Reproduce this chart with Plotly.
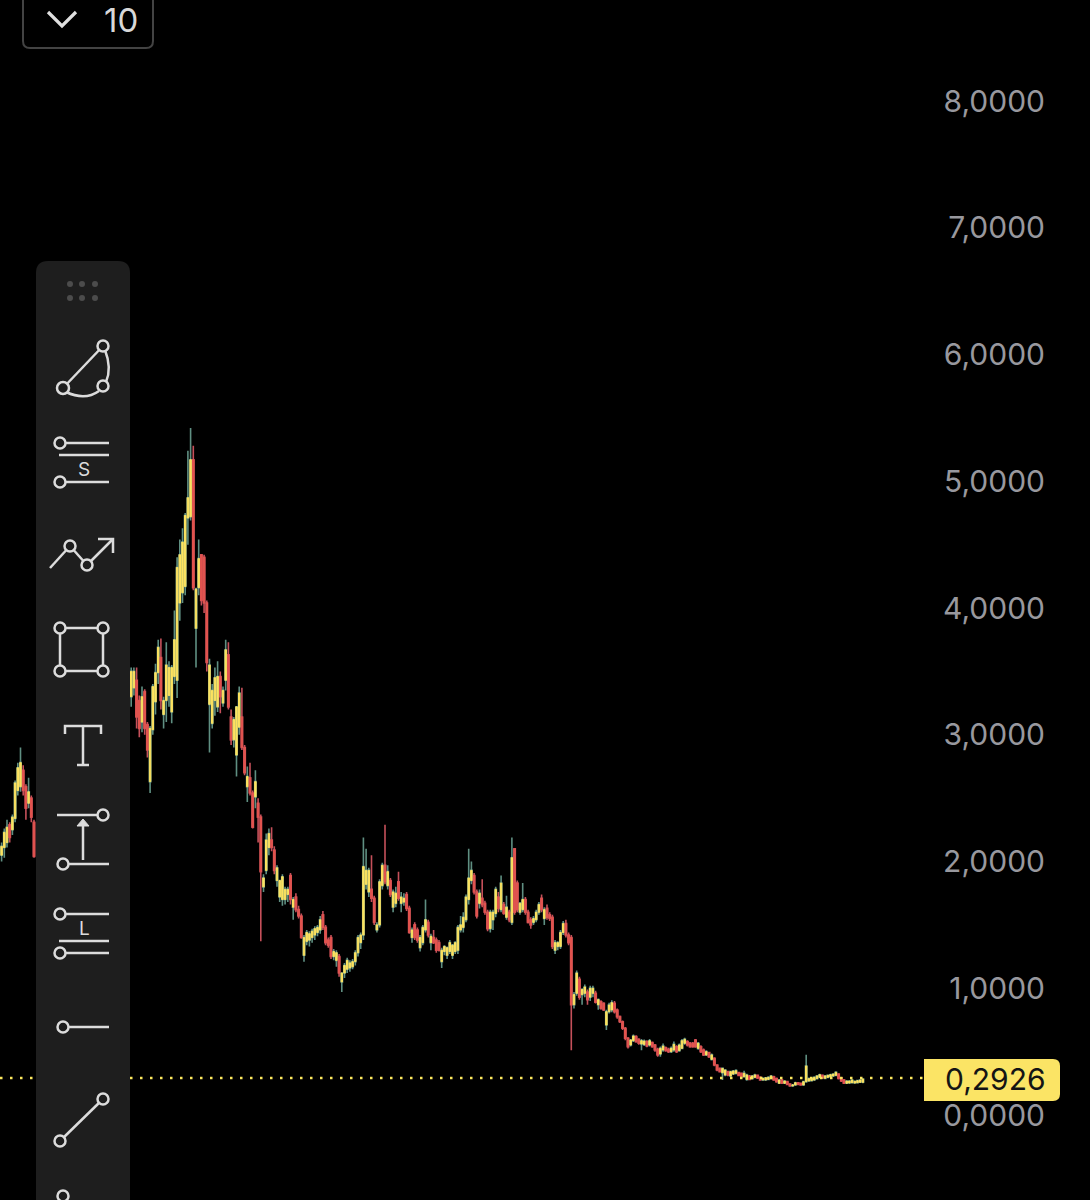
import plotly.graph_objects as go

# candles left of the toolbar
left_open = [2.05, 2.11, 2.15, 2.29, 2.25, 2.34, 2.56, 2.59, 2.72, 2.59, 2.46, 2.50, 2.31]
left_high = [2.15, 2.26, 2.33, 2.31, 2.37, 2.64, 2.78, 2.90, 2.76, 2.61, 2.66, 2.52, 2.33]
left_low = [2.00, 2.03, 2.11, 2.15, 2.21, 2.31, 2.52, 2.55, 2.52, 2.33, 2.42, 2.31, 2.03]
left_close = [2.12, 2.23, 2.27, 2.19, 2.35, 2.62, 2.74, 2.78, 2.56, 2.42, 2.55, 2.35, 2.04]

# candles right of the toolbar, up to the big drop
main_open = [
    3.30, 3.37, 3.43, 3.27, 3.10, 3.34, 3.08, 2.63, 3.04, 3.26,
    3.49, 3.61, 3.16, 3.27, 3.31, 3.18, 3.46, 3.43, 4.04, 4.12,
    4.17, 4.71, 4.72, 5.17, 3.84, 4.16, 4.42, 4.40, 4.04, 3.24,
    3.09, 3.27, 3.22, 3.46, 3.25, 3.43, 3.63, 3.14, 2.96, 2.84,
    3.06, 3.14, 2.90, 2.59, 2.66, 2.54, 2.51, 2.46, 2.35, 1.80,
    1.93, 2.11, 2.17, 2.09, 1.85, 1.72, 1.70, 1.70, 1.74, 1.89, 1.64,
    1.72, 1.62, 1.57, 1.26, 1.37, 1.38, 1.40, 1.42, 1.44, 1.46, 1.58, 1.48,
    1.38, 1.40, 1.25, 1.22, 1.25,
    1.05, 1.12, 1.15, 1.16, 1.17, 1.21, 1.28,
    1.36, 1.42, 1.82, 1.76, 1.78, 1.71, 1.46, 1.50, 1.81, 1.97,
    1.81, 1.85, 1.64, 1.67, 1.84, 1.67, 1.68, 1.74, 1.63, 1.40,
    1.50, 1.46, 1.32, 1.36, 1.46, 1.52, 1.36, 1.40, 1.38, 1.36,
    1.21, 1.29, 1.26, 1.29, 1.26, 1.29, 1.30, 1.46,
    1.48, 1.54, 1.70, 1.85, 1.89, 1.76, 1.67, 1.71, 1.67, 1.60,
    1.47, 1.54, 1.59, 1.72, 1.62, 1.66, 1.56, 1.60, 1.52, 2.10,
    1.83, 1.60, 1.62, 1.70, 1.60, 1.54, 1.52, 1.54, 1.60, 1.71,
    1.55, 1.63, 1.58, 1.56, 1.30, 1.33, 1.33, 1.44, 1.51, 1.42,
    1.40, 0.87, 0.96, 1.07, 0.95, 0.96, 0.97, 0.93, 0.96, 0.96, 0.87,
]
main_high = [
    3.53, 3.53, 3.53, 3.31, 3.38, 3.36, 3.10, 3.07, 3.40, 3.56,
    3.75, 3.76, 3.30, 3.73, 3.58, 3.55, 3.98, 4.40, 4.54, 4.63,
    4.75, 5.24, 5.42, 5.28, 4.16, 4.54, 4.42, 4.42, 4.06, 3.60,
    3.40, 3.53, 3.58, 3.50, 3.38, 3.75, 3.73, 3.20, 3.14, 3.22,
    3.38, 3.37, 2.92, 2.75, 2.78, 2.56, 2.72, 2.50, 2.37, 1.90,
    2.22, 2.26, 2.27, 2.12, 1.97, 1.85, 1.90, 1.80, 1.80, 1.91, 1.72,
    1.75, 1.65, 1.59, 1.42, 1.46, 1.45, 1.47, 1.49, 1.50, 1.57, 1.61, 1.50,
    1.40, 1.42, 1.31, 1.30, 1.27,
    1.12, 1.20, 1.24, 1.22, 1.23, 1.30, 1.42,
    1.44, 2.19, 2.10, 1.95, 2.05, 1.73, 1.52, 1.86, 1.99, 2.29,
    1.97, 1.87, 1.78, 1.80, 1.92, 1.76, 1.75, 1.76, 1.65, 1.48,
    1.52, 1.48, 1.42, 1.50, 1.70, 1.54, 1.43, 1.46, 1.40, 1.38,
    1.32, 1.34, 1.33, 1.38, 1.35, 1.37, 1.50, 1.57,
    1.60, 1.74, 2.10, 2.00, 1.91, 1.78, 1.78, 1.86, 1.69, 1.62,
    1.62, 1.62, 1.80, 1.76, 1.89, 1.68, 1.73, 1.62, 2.19, 2.10,
    1.85, 1.68, 1.83, 1.72, 1.62, 1.56, 1.57, 1.62, 1.68, 1.74,
    1.64, 1.66, 1.60, 1.58, 1.38, 1.37, 1.46, 1.53, 1.54, 1.44,
    1.42, 0.97, 1.14, 1.09, 1.00, 1.03, 0.99, 1.02, 1.02, 0.98, 0.92,
]
main_low = [
    3.22, 3.31, 3.05, 2.98, 3.02, 3.00, 2.82, 2.54, 3.00, 3.16,
    3.40, 3.20, 3.05, 3.10, 3.22, 3.09, 3.40, 3.29, 3.90, 4.04,
    4.10, 4.50, 4.69, 4.14, 3.53, 4.10, 4.02, 3.96, 3.50, 2.86,
    3.05, 3.15, 3.18, 3.17, 3.22, 3.35, 3.20, 2.92, 2.90, 2.67,
    3.00, 2.88, 2.68, 2.47, 2.52, 2.26, 2.42, 2.15, 1.37, 1.76,
    1.90, 2.05, 2.08, 1.90, 1.80, 1.68, 1.65, 1.66, 1.68, 1.66, 1.54,
    1.60, 1.55, 1.39, 1.21, 1.34, 1.33, 1.36, 1.38, 1.41, 1.43, 1.46, 1.34,
    1.32, 1.23, 1.22, 1.17, 1.09,
    0.97, 1.08, 1.12, 1.13, 1.15, 1.18, 1.25,
    1.31, 1.38, 1.78, 1.72, 1.68, 1.50, 1.44, 1.48, 1.78, 1.82,
    1.78, 1.72, 1.60, 1.64, 1.69, 1.60, 1.65, 1.61, 1.43, 1.36,
    1.38, 1.36, 1.29, 1.34, 1.44, 1.40, 1.30, 1.35, 1.28, 1.29,
    1.16, 1.26, 1.23, 1.27, 1.23, 1.27, 1.27, 1.44,
    1.44, 1.52, 1.66, 1.82, 1.74, 1.55, 1.63, 1.64, 1.58, 1.45,
    1.44, 1.46, 1.56, 1.60, 1.60, 1.58, 1.54, 1.52, 1.50, 1.58,
    1.60, 1.58, 1.60, 1.58, 1.51, 1.47, 1.50, 1.52, 1.58, 1.60,
    1.50, 1.54, 1.53, 1.31, 1.27, 1.30, 1.31, 1.42, 1.40, 1.34,
    0.51, 0.84, 0.94, 0.91, 0.87, 0.93, 0.87, 0.90, 0.93, 0.88, 0.83,
]
main_close = [
    3.50, 3.50, 3.14, 3.05, 3.30, 3.05, 2.88, 3.05, 3.38, 3.49,
    3.69, 3.27, 3.27, 3.55, 3.53, 3.53, 3.75, 4.32, 4.42, 4.52,
    4.73, 4.87, 5.17, 4.16, 4.15, 4.39, 4.06, 4.04, 3.57, 3.55,
    3.35, 3.45, 3.46, 3.30, 3.35, 3.67, 3.22, 2.96, 3.12, 3.22,
    3.33, 2.90, 2.70, 2.67, 2.54, 2.27, 2.63, 2.35, 1.92, 1.87,
    2.17, 2.22, 2.11, 1.93, 1.95, 1.85, 1.88, 1.78, 1.78, 1.70, 1.70,
    1.62, 1.57, 1.40, 1.40, 1.44, 1.43, 1.45, 1.47, 1.48, 1.54, 1.48, 1.36,
    1.34, 1.25, 1.29, 1.28, 1.12,
    1.12, 1.18, 1.22, 1.20, 1.21, 1.28, 1.40,
    1.42, 1.96, 1.93, 1.93, 1.71, 1.52, 1.50, 1.84, 1.97, 1.84,
    1.92, 1.74, 1.76, 1.75, 1.71, 1.72, 1.71, 1.63, 1.44, 1.46,
    1.40, 1.38, 1.40, 1.48, 1.54, 1.42, 1.41, 1.36, 1.30, 1.30,
    1.30, 1.33, 1.32, 1.36, 1.34, 1.36, 1.48, 1.50,
    1.56, 1.72, 1.87, 1.93, 1.76, 1.57, 1.75, 1.66, 1.60, 1.47,
    1.60, 1.60, 1.78, 1.63, 1.83, 1.59, 1.64, 1.54, 2.03, 1.60,
    1.62, 1.67, 1.70, 1.60, 1.52, 1.50, 1.55, 1.60, 1.66, 1.62,
    1.62, 1.56, 1.55, 1.33, 1.36, 1.36, 1.44, 1.51, 1.42, 1.36,
    0.87, 0.95, 1.12, 0.93, 0.99, 1.01, 0.91, 1.00, 1.00, 0.89, 0.91,
]

# the slow tail after the drop
tail_open = [
    .894, .881, .710, .815, .829, .881, .829, .776, .736, .684,
    .605, .552, .586, .618, .597, .560, .557, .579, .552, .571,
    .552, .518, .481, .513, .531, .518, .500, .513, .539, .508,
    .526, .566, .579, .566, .566, .592, .526, .539, .513, .474,
    .492, .439, .447, .395, .368, .334, .316, .342, .308, .323,
    .329, .334, .329, .302, .281, .308, .287, .297, .313, .297,
    .276, .276, .281, .289, .302, .287, .250, .276, .250, .263,
    .245, .229, .237, .255, .250, .237, .263, .268,
    .271, .276, .287, .297, .313, .289, .297, .302, .308, .313,
    .323, .294, .276, .250, .252, .255, .252, .255, .258, .258,
]
tail_high = [
    .905, .890, .830, .885, .905, .900, .840, .785, .745, .695,
    .615, .600, .635, .630, .605, .600, .595, .590, .600, .580,
    .560, .530, .540, .565, .540, .530, .540, .580, .550, .565,
    .600, .610, .590, .575, .575, .600, .575, .550, .525, .510,
    .500, .485, .455, .400, .375, .375, .360, .350, .350, .355,
    .360, .340, .335, .350, .325, .315, .315, .325, .320, .305,
    .295, .300, .305, .315, .310, .295, .285, .285, .275, .270,
    .250, .245, .262, .260, .255, .270, .475, .295,
    .295, .305, .315, .325, .320, .315, .320, .325, .330, .345,
    .330, .300, .285, .275, .275, .282, .272, .277, .282, .290,
]
tail_low = [
    .830, .820, .670, .800, .810, .800, .760, .725, .670, .590,
    .525, .540, .575, .570, .555, .510, .545, .535, .540, .530,
    .500, .460, .460, .500, .500, .490, .490, .500, .490, .500,
    .520, .555, .540, .530, .530, .530, .515, .490, .465, .465,
    .450, .430, .385, .345, .335, .276, .305, .305, .300, .315,
    .320, .305, .295, .295, .270, .275, .280, .290, .285, .270,
    .270, .270, .275, .285, .270, .255, .245, .245, .245, .235,
    .225, .225, .232, .237, .232, .232, .255, .262,
    .265, .270, .280, .290, .285, .285, .290, .295, .300, .305,
    .280, .260, .245, .245, .247, .250, .247, .250, .252, .250,
]
tail_close = [
    .842, .829, .815, .868, .886, .815, .776, .736, .684, .605,
    .539, .592, .623, .579, .566, .586, .583, .544, .586, .539,
    .513, .474, .526, .544, .508, .500, .526, .557, .500, .552,
    .586, .597, .552, .539, .539, .539, .566, .500, .474, .500,
    .460, .474, .395, .355, .342, .368, .355, .316, .342, .347,
    .350, .313, .302, .329, .316, .281, .308, .316, .292, .276,
    .289, .294, .297, .308, .276, .263, .276, .250, .268, .242,
    .229, .237, .255, .242, .237, .263, .387, .287,
    .289, .297, .308, .318, .292, .308, .313, .318, .323, .337,
    .289, .268, .250, .268, .268, .276, .266, .271, .276, .284,
]

y_ticks = [0, 1, 2, 3, 4, 5, 6, 7, 8]
last_price = 0.2926

opens = left_open + main_open + tail_open
highs = left_high + main_high + tail_high
lows = left_low + main_low + tail_low
closes = left_close + main_close + tail_close
bar_no = list(range(len(left_open))) + list(range(48, 48 + len(main_open) + len(tail_open)))

W = 1090
H = 1200
ICON = '#dcdcdc'
PANEL = '#1e1e1e'


def px(x):
    return x / 1048


def py(y):
    return 1 - y / H


fig = go.Figure()

# wicks first, then the bodies on top so the bodies keep the flat colour
fig.add_trace(go.Candlestick(
    x=bar_no, open=opens, high=highs, low=lows, close=closes,
    increasing=dict(line=dict(color='#5f8f82', width=1.6), fillcolor='#5f8f82'),
    decreasing=dict(line=dict(color='#c5505a', width=1.6), fillcolor='#c5505a'),
    hoverinfo='skip', showlegend=False,
))
fig.add_trace(go.Candlestick(
    x=bar_no, open=opens, close=closes,
    high=[max(o, c) for o, c in zip(opens, closes)],
    low=[min(o, c) for o, c in zip(opens, closes)],
    increasing=dict(line=dict(color='#fde25f', width=1), fillcolor='#fde25f'),
    decreasing=dict(line=dict(color='#e2544f', width=1), fillcolor='#e2544f'),
    hoverinfo='skip', showlegend=False,
))

shapes = []


def line(x0, y0, x1, y1, width=2.5, color=ICON):
    shapes.append(dict(type='line', xref='paper', yref='paper',
                       x0=px(x0), y0=py(y0), x1=px(x1), y1=py(y1),
                       line=dict(color=color, width=width)))


def circle(cx, cy, r=5.5):
    shapes.append(dict(type='circle', xref='paper', yref='paper',
                       x0=px(cx - r), y0=py(cy + r), x1=px(cx + r), y1=py(cy - r),
                       fillcolor=PANEL, line=dict(color=ICON, width=2.5)))


def dot(cx, cy, r=3, color='#4c4c4c'):
    shapes.append(dict(type='circle', xref='paper', yref='paper',
                       x0=px(cx - r), y0=py(cy + r), x1=px(cx + r), y1=py(cy - r),
                       fillcolor=color, line=dict(width=0)))


def path(points, width=2.5, fill=None, close=False, color=ICON):
    # points are pixel pairs, an extra control point makes a quadratic curve
    d = ''
    for p in points:
        if len(p) == 2:
            d += ('M' if not d else 'L') + f'{px(p[0])},{py(p[1])} '
        else:
            d += f'Q{px(p[0])},{py(p[1])} {px(p[2])},{py(p[3])} '
    if close:
        d += 'Z'
    shapes.append(dict(type='path', xref='paper', yref='paper', path=d,
                       fillcolor=fill or 'rgba(0,0,0,0)',
                       line=dict(color=color, width=width)))


# dotted price line
shapes.append(dict(type='line', xref='paper', yref='y', x0=0, x1=px(924),
                   y0=last_price, y1=last_price,
                   line=dict(color='#fbe75f', width=2.5, dash='2.5px,7.5px')))

# price tag
path([(924, 1059), (1053, 1059), (1060, 1059, 1060, 1066), (1060, 1094),
      (1060, 1101, 1053, 1101), (924, 1101)],
     width=0, fill='#fbe465', close=True, color='#fbe465')

# top left button, its top is cut off by the page
path([(23, -10), (23, 41), (23, 48, 30, 48), (146, 48), (153, 48, 153, 41), (153, -10)],
     width=2, color='#434343')
path([(48, 12), (62, 26), (76, 12)], width=3.2, color='#dfdfdf')

# toolbar panel
path([(36, 1210), (36, 273), (36, 261, 48, 261), (118, 261), (130, 261, 130, 273), (130, 1210)],
     width=0, fill=PANEL, close=True, color=PANEL)
for dx in [70, 82, 95]:
    dot(dx, 284)
    dot(dx, 298)

# fib arc
line(63, 388, 103, 346)
path([(66, 392), (85, 401, 99, 391)])
path([(105, 350), (112, 368, 106, 382)])
circle(103, 346)
circle(63, 388, 6)
circle(103, 386)

# short position
line(60, 443, 109, 443)
line(59, 455, 109, 455)
line(60, 482, 109, 482)
circle(60, 443)
circle(60, 482)

# path with arrow
line(50, 568, 70, 546)
line(70, 546, 87, 565)
line(87, 565, 113, 539)
path([(98, 539), (113, 539), (113, 553)])
circle(70, 546)
circle(87, 565)

# rectangle
path([(60, 628), (103, 628), (103, 671), (60, 671)], close=True)
circle(60, 628)
circle(103, 628)
circle(60, 671)
circle(103, 671)

# text tool
path([(65, 734), (65, 726), (101, 726), (101, 734)])
line(83, 726, 83, 765)
line(77, 765, 89, 765)

# measure
line(57, 815, 103, 815)
circle(103, 815)
line(83, 860, 83, 824)
path([(77, 826), (89, 826), (83, 819)], width=1, fill=ICON, close=True)
line(63, 864, 109, 864)
circle(63, 864)

# long position
line(60, 914, 109, 914)
line(59, 941, 109, 941)
line(60, 953, 109, 953)
circle(60, 914)
circle(60, 953)

# horizontal ray
line(63, 1027, 109, 1027)
circle(63, 1027)

# trend line
line(60, 1141, 103, 1099)
circle(103, 1099)
circle(60, 1141)

circle(63, 1196)

annotations = [
    dict(x=px(1048), y=py(1079), text='0,2926', xanchor='right', yanchor='middle',
         font=dict(family='Inter', size=30, color='#141414')),
    dict(x=px(121), y=py(20), text='10', xanchor='center', yanchor='middle', borderpad=0,
         font=dict(family='Inter', size=33, color='#d8d8d8')),
    dict(x=px(84), y=py(469), text='S', xanchor='center', yanchor='middle',
         font=dict(family='Inter', size=19, color=ICON)),
    dict(x=px(84), y=py(928), text='L', xanchor='center', yanchor='middle',
         font=dict(family='Inter', size=19, color=ICON)),
]
for a in annotations:
    a.update(xref='paper', yref='paper', showarrow=False)

fig.update_layout(
    width=W,
    height=H,
    margin=dict(l=0, r=W - 1048, t=0, b=0),
    paper_bgcolor='#000000',
    plot_bgcolor='#000000',
    separators=',.',
    boxgap=0.25,
    shapes=shapes,
    annotations=annotations,
    showlegend=False,
    xaxis=dict(range=[-0.593, 387.56], visible=False, rangeslider=dict(visible=False)),
    yaxis=dict(
        range=[-0.6706, 8.797],
        side='right',
        tickmode='array',
        tickvals=y_ticks,
        tickformat='.4f',
        ticklabelposition='inside',
        ticks='',
        showgrid=False,
        zeroline=False,
        showline=False,
        tickfont=dict(family='Inter', size=30, color='#98989e'),
    ),
)

fig.write_html("out.html", config={'displayModeBar': False},
               post_script="document.body.style.margin='0';")
